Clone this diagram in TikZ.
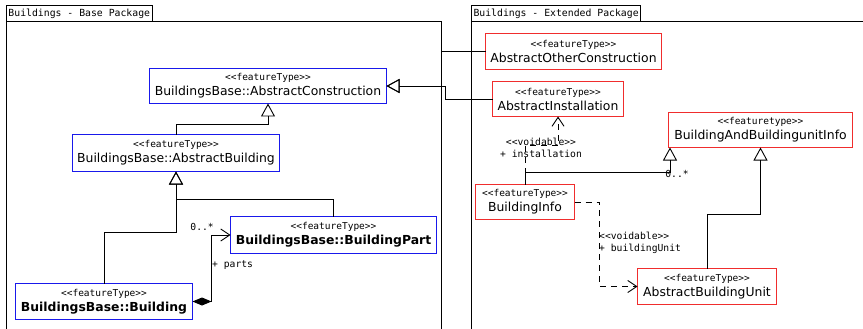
\documentclass[tikz,border=0pt]{standalone}
\usepackage{fontspec}
\setmainfont{DejaVu Sans}
\newfontfamily\monofont{DejaVu Sans Mono}
\usetikzlibrary{arrows.meta,calc}
\definecolor{basecol}{RGB}{25,25,235}
\definecolor{extcol}{RGB}{240,45,45}
\newcommand{\stereo}[1]{{\monofont\fontsize{9.5}{11}\selectfont #1}}
\tikzset{
  feature/.style={draw, color=#1, text=black, line width=1.4pt, align=center, inner sep=0pt,
    outer sep=0pt, fill=white, font=\fontsize{12.4}{15}\selectfont},
  pkgtab/.style={draw, line width=0.8pt, inner xsep=2pt, inner ysep=0pt, outer sep=0pt,
    minimum height=16pt, font=\monofont\fontsize{9.8}{11}\selectfont},
  gen/.style={line width=0.9pt, -{Triangle[open, length=13pt, width=14pt]}},
  assoc/.style={line width=0.9pt, -{Straight Barb[length=9pt, width=12pt]}},
  depend/.style={assoc, dash pattern=on 6pt off 5pt},
  lbl/.style={font=\monofont\fontsize{9.7}{11.5}\selectfont, inner sep=0pt}
}
\begin{document}
\begin{tikzpicture}[x=1pt, y=-1pt]
  \useasboundingbox (0,0) rectangle (863,329);
  % packages
  \node[pkgtab, anchor=north west] (basetab) at (6.5,5.5) {Buildings - Base Package};
  \draw[line width=0.8pt] (basetab.north west) -- (6.5,335);
  \draw[line width=0.8pt] (basetab.south west) -- (441.5,21.5) -- (441.5,335);
  \node[pkgtab, anchor=north west] (exttab) at (471.5,5.5) {Buildings - Extended Package};
  \draw[line width=0.8pt] (exttab.north west) -- (471.5,335);
  \draw[line width=0.8pt] (exttab.south west) -- (870,21.5);
  % base classes
  \node[feature=basecol, minimum width=237pt, minimum height=35pt] (constr) at (268,86)
    {\stereo{<<featureType>>}\\BuildingsBase::AbstractConstruction};
  \node[feature=basecol, minimum width=207pt, minimum height=37pt] (absbldg) at (176,153)
    {\stereo{<<featureType>>}\\BuildingsBase::AbstractBuilding};
  \node[feature=basecol, minimum width=177pt, minimum height=36pt] (bldg) at (104,301.5)
    {\stereo{<<featureType>>}\\\textbf{BuildingsBase::Building}};
  \node[feature=basecol, minimum width=206pt, minimum height=37pt] (part) at (333.5,235)
    {\stereo{<<featureType>>}\\\textbf{BuildingsBase::BuildingPart}};
  % extended classes
  \node[feature=extcol, minimum width=176pt, minimum height=36pt] (other) at (573.5,51.5)
    {\stereo{<<featureType>>}\\AbstractOtherConstruction};
  \node[feature=extcol, minimum width=131pt, minimum height=35pt] (install) at (558,99)
    {\stereo{<<featureType>>}\\AbstractInstallation};
  \node[feature=extcol, minimum width=184pt, minimum height=35pt] (unitinfo) at (760.5,130)
    {\stereo{<<featuretype>>}\\BuildingAndBuildingunitInfo};
  \node[feature=extcol, minimum width=99pt, minimum height=35pt] (info) at (525,202)
    {\stereo{<<featureType>>}\\BuildingInfo};
  \node[feature=extcol, minimum width=139pt, minimum height=36pt] (unit) at (707,286.5)
    {\stereo{<<featureType>>}\\AbstractBuildingUnit};
  % generalisations
  \draw[gen] (absbldg.north) -- ++(0,-10) -| (constr.south);
  \draw[gen] (bldg.north) -- ++(0,-51) -| (absbldg.south);
  \draw[gen] (part.north) -- ++(0,-17) -| (absbldg.south);
  \draw[gen] (other.west) -- ++(-44,0) |- (constr.east);
  \draw[gen] (install.west) -- ++(-47,0) |- (constr.east);
  \draw[gen] (info.north) |- ($(unitinfo.south west)+(1.5,25)$) -- ($(unitinfo.south west)+(1.5,0)$);
  \draw[gen] (unit.north) -- ++(0,-54) -| (unitinfo.south);
  % associations
  \draw[assoc, {Diamond[length=19pt, width=8pt]}-{Straight Barb[length=9pt, width=12pt]}]
    (bldg.east) -- ++(19,0) |- (part.west);
  \node[lbl, anchor=east] (partsmult) at (214,227) {0..*};
  \node[lbl, anchor=west] (partsrole) at (212,265) {+ parts};
  \node[lbl] (infomult) at (677,174) {0..*};
  \draw[depend] (info.north) -- ++(0,-39) -| (install.south);
  \node[lbl, align=center] (installrole) at (541,148) {<<voidable>>\\+ installation};
  \draw[depend] (info.east) -- ++(25,0) |- (unit.west);
  \node[lbl, align=left, anchor=west] (unitrole) at (599,243) {<<voidable>>\\+ buildingUnit};
\end{tikzpicture}
\end{document}
